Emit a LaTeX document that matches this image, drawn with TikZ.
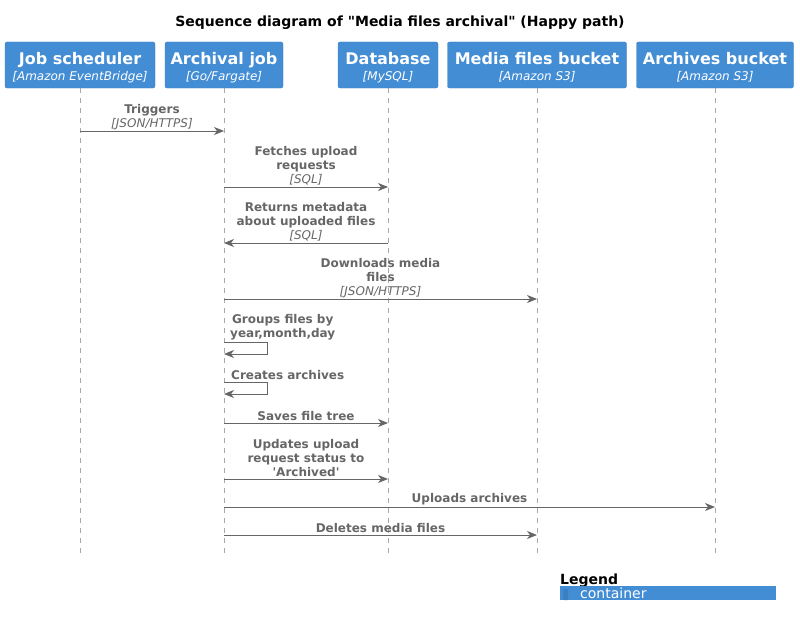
\documentclass[tikz,border=0pt]{standalone}
\usepackage{fontspec}
\setmainfont{DejaVu Sans}
\newfontfamily\rawfont{DejaVu Sans}
\usetikzlibrary{arrows.meta}
\definecolor{c4blue}{HTML}{438DD5}
\definecolor{c4border}{HTML}{3C7FC0}
\definecolor{msggray}{HTML}{666666}
\definecolor{lifegray}{HTML}{A8A8A8}
\tikzset{
  participant/.style={draw=c4border, fill=c4blue, rounded corners=2pt,
    minimum height=46pt, inner sep=0pt},
  ptext/.style={text=white, inner sep=0pt, align=center, font=\fontsize{16}{17}\selectfont\bfseries},
  lifeline/.style={draw=lifegray, line width=0.8pt, dash pattern=on 5pt off 5pt},
  msg/.style={draw=msggray, line width=1pt, -{Stealth[length=10pt,width=8pt,inset=3pt]}},
  msglabel/.style={text=msggray, inner sep=0pt, align=center,
    font=\fontsize{12}{14}\selectfont\bfseries}
}
\newcommand{\techtxt}[1]{{\fontsize{12}{14}\selectfont\mdseries\itshape #1}}
\newcommand{\subtxt}[1]{{\fontsize{12}{14}\selectfont\mdseries\itshape #1}}
\begin{document}
\begin{tikzpicture}[x=1pt,y=-1pt]
\useasboundingbox (0,0) rectangle (800,626);
% title
\node[anchor=base, font=\fontsize{14}{16}\selectfont\bfseries] (title) at (400,27)
  {\rawfont Sequence diagram of "Media files archival" (Happy path)};
% participants
\node[participant, minimum width=150pt] (js) at (80,65) {};
\node[participant, minimum width=118pt] (aj) at (224,65) {};
\node[participant, minimum width=100pt] (db) at (388,65) {};
\node[participant, minimum width=179pt] (mb) at (537,65) {};
\node[participant, minimum width=157pt] (ab) at (715,65) {};
\node[ptext] (jst) at ([yshift=-2.5pt]js.center) {Job scheduler\\[-1pt]\subtxt{[Amazon EventBridge]}};
\node[ptext] (ajt) at ([yshift=-2.5pt]aj.center) {Archival job\\[-1pt]\subtxt{[Go/Fargate]}};
\node[ptext] (dbt) at ([yshift=-2.5pt]db.center) {Database\\[-1pt]\subtxt{[MySQL]}};
\node[ptext] (mbt) at ([yshift=-2.5pt]mb.center) {Media files bucket\\[-1pt]\subtxt{[Amazon S3]}};
\node[ptext] (abt) at ([yshift=-2.5pt]ab.center) {Archives bucket\\[-1pt]\subtxt{[Amazon S3]}};
% lifeline ends
\coordinate (bottom) at (0,553);
\foreach \p in {js,aj,db,mb,ab}{
  \draw[lifeline] (\p.south) -- (\p |- bottom);
}
% message rows
\coordinate (r1) at (0,131);
\coordinate (r2) at (0,187);
\coordinate (r3) at (0,243);
\coordinate (r4) at (0,299);
\coordinate (r5a) at (0,342);
\coordinate (r5b) at (0,354);
\coordinate (r6a) at (0,382);
\coordinate (r6b) at (0,394);
\coordinate (r7) at (0,423);
\coordinate (r8) at (0,479);
\coordinate (r9) at (0,507);
\coordinate (r10) at (0,535);
\coordinate (loopx) at (267,0);
% messages
\draw[msg] (js |- r1) -- node[msglabel, anchor=south, yshift=1pt] (l1) {Triggers\\\techtxt{[JSON/HTTPS]}} (aj |- r1);
\draw[msg] (aj |- r2) -- node[msglabel, anchor=south, yshift=1pt] (l2) {Fetches upload\\requests\\\techtxt{[SQL]}} (db |- r2);
\draw[msg] (db |- r3) -- node[msglabel, anchor=south, yshift=1pt] (l3) {Returns metadata\\about uploaded files\\\techtxt{[SQL]}} (aj |- r3);
\draw[msg] (aj |- r4) -- node[msglabel, anchor=south, yshift=1pt] (l4) {Downloads media\\files\\\techtxt{[JSON/HTTPS]}} (mb |- r4);
\draw[msg] (aj |- r5a) -- (loopx |- r5a) -- (loopx |- r5b) -- (aj |- r5b);
\node[msglabel, anchor=south west] (l5) at ([xshift=6pt,yshift=2pt]aj |- r5a) {Groups files by\\year,month,day};
\draw[msg] (aj |- r6a) -- (loopx |- r6a) -- (loopx |- r6b) -- (aj |- r6b);
\node[msglabel, anchor=south west] (l6) at ([xshift=7pt,yshift=2.5pt]aj |- r6a) {Creates archives};
\draw[msg] (aj |- r7) -- node[msglabel, anchor=south, yshift=2pt] (l7) {Saves file tree} (db |- r7);
\draw[msg] (aj |- r8) -- node[msglabel, anchor=south, yshift=2pt] (l8) {Updates upload\\request status to\\{\rawfont'Archived'}} (db |- r8);
\draw[msg] (aj |- r9) -- node[msglabel, anchor=south, yshift=2pt] (l9) {Uploads archives} (ab |- r9);
\draw[msg] (aj |- r10) -- node[msglabel, anchor=south, yshift=2pt] (l10) {Deletes media files} (mb |- r10);
% legend
\node[anchor=base west, inner sep=0pt, font=\fontsize{14}{16}\selectfont\bfseries] (legend) at (560,584) {Legend};
\node[anchor=north west, fill=c4blue, minimum width=216pt, minimum height=14pt, inner sep=0pt] (legbar) at (560,586) {};
\node[anchor=north west, fill=c4border, minimum width=5pt, minimum height=11pt, inner sep=0pt, rounded corners=1pt] (legicon) at (563,589) {};
\node[anchor=base west, inner sep=0pt, text=white, font=\fontsize{14}{16}\selectfont] (legtext) at (580,598) {container};
\end{tikzpicture}
\end{document}
